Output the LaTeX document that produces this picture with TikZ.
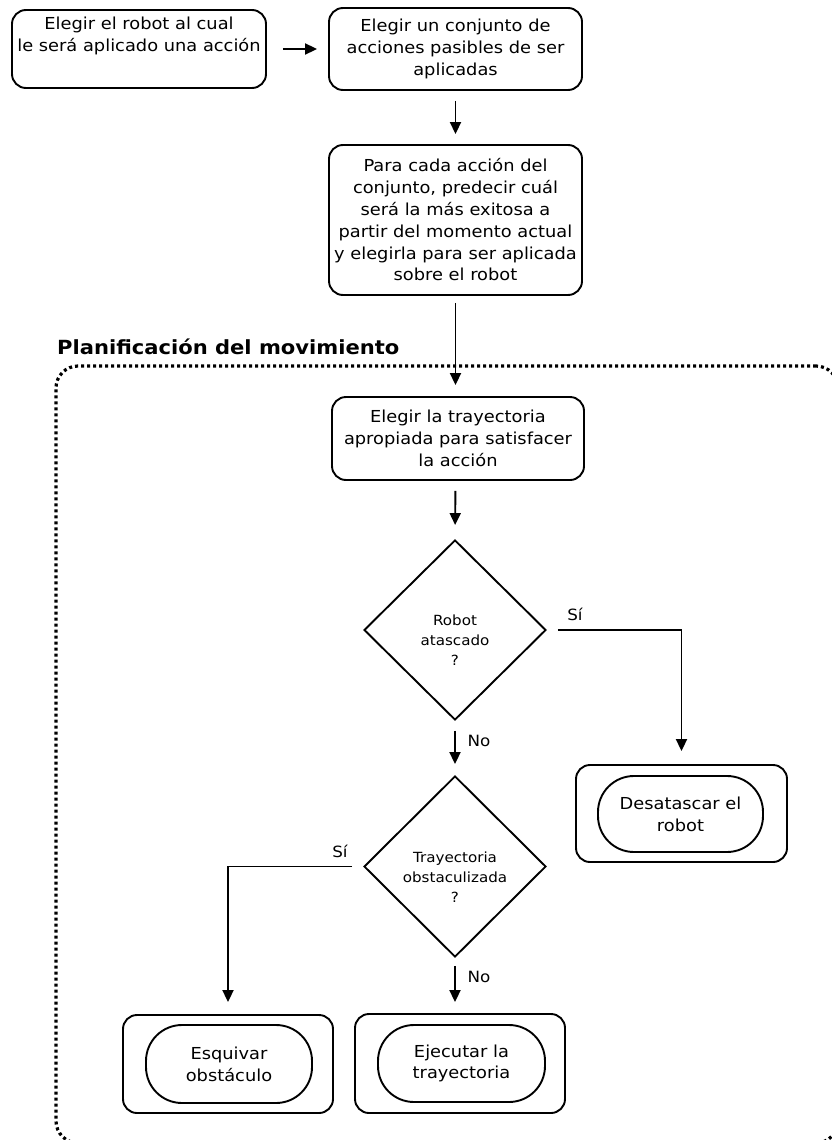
\documentclass[tikz,border=0pt]{standalone}
\usepackage{fontspec}
\setmainfont[FakeStretch=1.08]{DejaVu Sans}
\usetikzlibrary{arrows.meta,shapes.geometric}
\begin{document}
\begin{tikzpicture}[x=1pt,y=-1pt,
  txt/.style={align=center,inner sep=0pt,font=\fontsize{16.5}{21.8}\selectfont},
  box/.style={draw,line width=1.9pt,rounded corners=14pt,txt},
  outerbox/.style={draw,line width=1.9pt,rounded corners=14pt,inner sep=0pt},
  pill/.style={draw,line width=1.9pt,rounded corners=36pt,txt},
  decision/.style={draw,diamond,line width=1.9pt,inner sep=0pt},
  dtext/.style={align=center,inner sep=0pt,font=\fontsize{14}{20}\selectfont},
  arr/.style={line width=1.9pt,-{Triangle[length=12pt,width=11pt]}},
  lbl/.style={font=\fontsize{15.5}{18}\selectfont,inner sep=0pt},
  frame/.style={draw,line width=3.2pt,dash pattern=on 3pt off 3pt,
    rounded corners=22pt,inner sep=0pt}
]
\useasboundingbox (0,0) rectangle (831,1140);

% motion-planning group frame
\node[frame,minimum width=782pt,minimum height=777pt] (frame) at (447,754.5) {};
\node[anchor=west,inner sep=0pt,font=\bfseries\fontsize{19.5}{22}\selectfont] (title) at (57,347) {Planificación del movimiento};

% upper steps
\node[outerbox,minimum width=254pt,minimum height=78pt] (A) at (139,49) {};
\node[txt,anchor=north] (Atext) at (139,17)
  {Elegir el robot al cual\\le será aplicado una acción};
\node[box,minimum width=253pt,minimum height=82pt] (B) at (455.5,49)
  {Elegir un conjunto de\\acciones pasibles de ser\\aplicadas};
\node[box,minimum width=253pt,minimum height=150pt] (C) at (455.5,220)
  {Para cada acción del\\conjunto, predecir cuál\\será la más exitosa a\\partir del momento actual\\y elegirla para ser aplicada\\sobre el robot};
\node[box,minimum width=252pt,minimum height=83pt] (D) at (458,438.5)
  {Elegir la trayectoria\\apropiada para satisfacer\\la acción};

% decisions (text sits a little below the diamond centre)
\node[decision,minimum width=182pt,minimum height=180pt] (E) at (455,630) {};
\node[dtext] (Etext) at (455,640) {Robot\\atascado\\?};
\node[decision,minimum width=182pt,minimum height=181pt] (G) at (455,866.5) {};
\node[dtext] (Gtext) at (455,877) {Trayectoria\\obstaculizada\\?};

% actions
\node[outerbox,minimum width=211pt,minimum height=97pt] (F) at (681.5,813.5) {};
\node[pill,minimum width=165pt,minimum height=76pt] (Fin) at (680.5,814)
  {Desatascar el\\robot};
\node[outerbox,minimum width=210pt,minimum height=98pt] (H) at (228,1064) {};
\node[pill,minimum width=166pt,minimum height=78pt] (Hin) at (229,1064)
  {Esquivar\\obstáculo};
\node[outerbox,minimum width=210pt,minimum height=99pt] (I) at (460,1063.5) {};
\node[pill,minimum width=167pt,minimum height=77pt] (Iin) at (461.5,1063.5)
  {Ejecutar la\\trayectoria};

% connectors
\draw[arr,shorten <=16pt,shorten >=11pt] (A.east) -- (B.west);
\draw[arr,shorten <=10pt,shorten >=10pt] (B.south) -- (C.north);
\draw[arr,shorten <=7pt,shorten >=11pt] (C.south) -- (C.south |- D.north);
\draw[arr,shorten <=10pt,shorten >=14pt] (C.south |- D.south) -- (E.north);
\draw[arr,shorten <=11pt,shorten >=13pt] (E.east) -| (F.north);
\draw[arr,shorten <=10pt,shorten >=11pt] (E.south) -- (G.north);
\draw[arr,shorten <=11pt,shorten >=12pt] (G.west) -| (H.north);
\draw[arr,shorten <=8pt,shorten >=11pt] (G.south) -- (G.south |- I.north);

% branch labels
\node[lbl] (si1) at (575,614) {Sí};
\node[lbl] (no1) at (479,741) {No};
\node[lbl] (si2) at (340,851) {Sí};
\node[lbl] (no2) at (479,977) {No};
\end{tikzpicture}
\end{document}
